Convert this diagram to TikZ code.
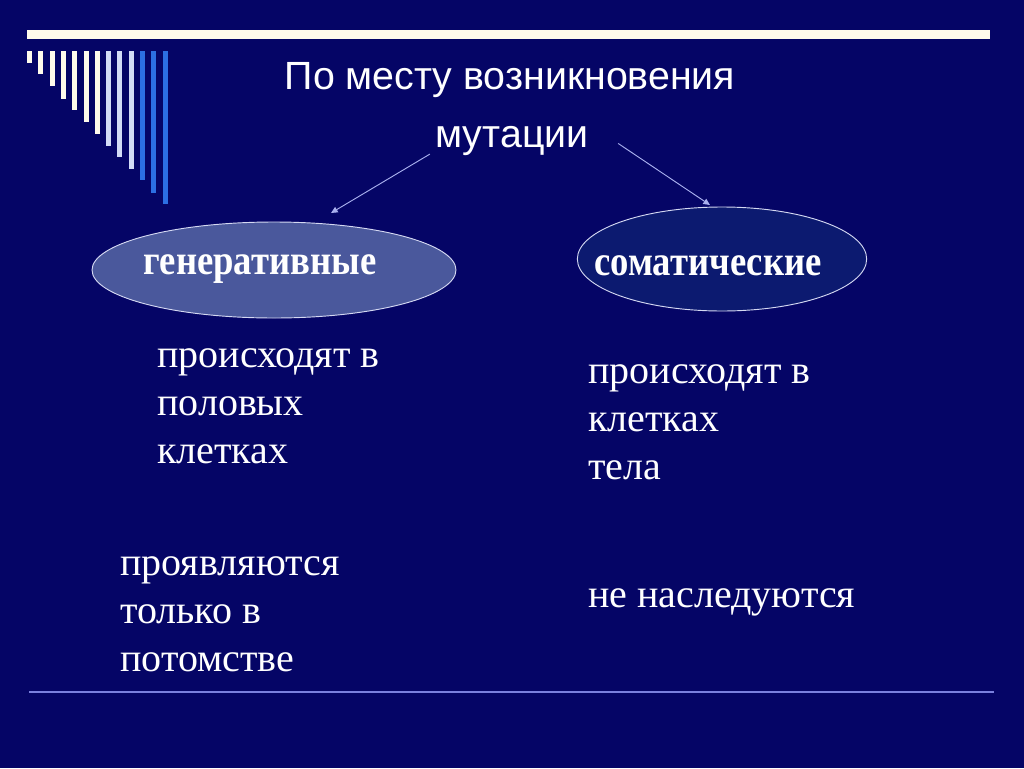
\documentclass[tikz,border=0pt]{standalone}
\usepackage{fontspec}
\setmainfont{Liberation Serif}
\setsansfont{Liberation Sans}
\usetikzlibrary{arrows.meta,positioning,shapes.geometric}
\definecolor{bgnavy}{HTML}{050566}
\definecolor{ovalA}{HTML}{4A589C}
\definecolor{ovalB}{HTML}{0C1A70}
\definecolor{rim}{HTML}{D4D8F2}
\definecolor{arrc}{HTML}{A9B0EE}
\definecolor{rule}{HTML}{7A80DE}
\definecolor{barA}{HTML}{FFFBEC}
\definecolor{barB}{HTML}{D3DCF7}
\definecolor{barC}{HTML}{2C6FE3}
\newcommand{\tallbf}[1]{\scalebox{1}[1.15]{#1}}
\tikzset{
  oval/.style={ellipse,draw=rim,line width=0.7pt,inner sep=0pt},
  ovaltxt/.style={text=white,font=\bfseries\fontsize{27.5}{30}\selectfont,inner sep=0pt,anchor=base},
  ttl/.style={text=white,font=\sffamily\fontsize{29.5}{32}\selectfont,inner sep=0pt,anchor=base},
  body/.style={text=white,align=left,font=\fontsize{30}{35.7}\selectfont,inner sep=0pt,anchor=base west},
  arr/.style={-{Triangle[length=5pt,width=4.5pt]},line width=0.7pt,color=arrc}}
\begin{document}
\begin{tikzpicture}[x=0.75pt,y=-0.75pt]
\fill[bgnavy] (0,0) rectangle (1024,768);
\useasboundingbox (0,0) rectangle (1024,768);
% top rule and bars
\fill[barA] (27,30) rectangle (990,39);
\foreach \i/\h/\c in {0/63/barA,1/74/barA,2/86/barA,3/99/barA,4/110/barA,5/122/barA,6/134/barA,
  7/146/barB,8/157/barB,9/169/barB,10/180/barC,11/193/barC,12/204/barC}
  \fill[\c] ({27+11.3*\i},51) rectangle ({32+11.3*\i},\h);
% heading
\node[ttl] (title) at (510,89) {По месту возникновения};
\node[ttl] (mut) at (512,147) {мутации};
% the two kinds
\node[oval,fill=ovalA,minimum width=273pt,minimum height=72pt] (gen) at (274,270) {};
\node[ovaltxt] (genT) at ([xshift=-10.5pt,yshift=-3pt]gen) {\tallbf{генеративные}};
\node[oval,fill=ovalB,minimum width=217pt,minimum height=78pt] (som) at (722,259) {};
\node[ovaltxt] (somT) at ([xshift=-10.5pt,yshift=-12.5pt]som) {\tallbf{соматические}};
\coordinate (genIn) at (331,213);
\coordinate (somIn) at (710,205);
\draw[arr] ([xshift=-4pt,yshift=1pt]mut.south west) -- (genIn);
\draw[arr] ([xshift=22pt,yshift=9pt]mut.south east) -- (somIn);
% descriptions (anchored at the last line)
\node[body] (genA) at (157,463) {происходят в\\половых\\клетках};
\node[body] (genB) at (120,671) {проявляются\\только в\\потомстве};
\node[body] (somA) at (588,479) {происходят в\\клетках\\тела};
\node[body] (somB) at (588,607) {не наследуются};
\draw[rule,line width=1.5pt] (29,692) -- (994,692);
\end{tikzpicture}
\end{document}
